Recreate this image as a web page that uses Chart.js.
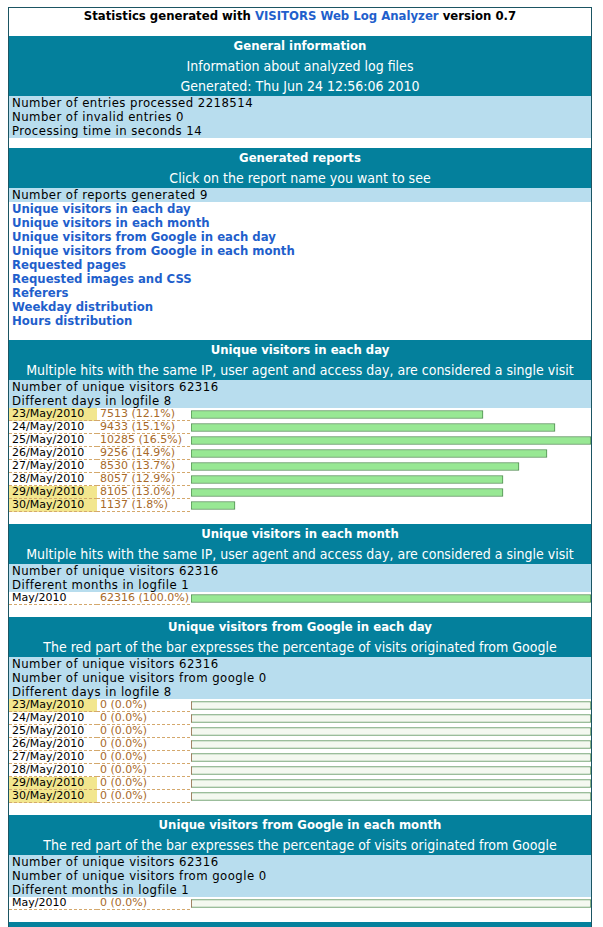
<!DOCTYPE html>
<html>
<head>
<meta charset="utf-8">
<script src="https://cdn.jsdelivr.net/npm/chart.js@4.4.0/dist/chart.umd.min.js"></script>
<style>
  body { margin: 0; background: #fff; font-family: "DejaVu Sans Condensed", "Liberation Sans", sans-serif; font-size: 14px; color: #000; }
  #page { position: absolute; left: 8px; top: 7px; width: 582px; border: 1px solid #1b5563; border-bottom: none; height: 930px; overflow: hidden; }
  #title { height: 28px; line-height: 16px; text-align: center; font-weight: bold; font-size: 13px; }
  a { color: #1f5fcc; text-decoration: none; }
  .hd { background: #04809c; color: #fff; text-align: center; }
  .hd div { height: 20px; line-height: 20px; white-space: nowrap; }
  .hd .t { font-weight: bold; font-size: 13px; }
  .info { background: #b8ddee; padding-left: 3px; font-size: 13px; letter-spacing: 0.45px; }
  .info div { height: 14px; line-height: 14px; white-space: nowrap; }
  .links { padding-left: 3px; font-weight: bold; font-size: 13px; }
  .links div { height: 14px; line-height: 14px; }
  .rows { position: relative; }
  .row { height: 13px; display: flex; font-family: "DejaVu Sans", sans-serif; font-size: 11px; }
  .d, .v { box-sizing: border-box; height: 13px; line-height: 12px; border-bottom: 1px dashed #d4a86c; white-space: nowrap; }
  .d { width: 88px; padding-left: 3px; }
  .d.we { background: #f2e68e; }
  .v { width: 93px; padding-left: 3px; color: #a86a2a; }
  .rows canvas { position: absolute; left: 182px; top: 0; }
  .gap { height: 12px; }
</style>
</head>
<body>
<div id="page">
  <div id="title">Statistics generated with <a href="#">VISITORS Web Log Analyzer</a> version 0.7</div>

  <div class="hd"><div class="t">General information</div><div>Information about analyzed log files</div><div>Generated: Thu Jun 24 12:56:06 2010</div></div>
  <div class="info"><div>Number of entries processed 2218514</div><div>Number of invalid entries 0</div><div>Processing time in seconds 14</div></div>
  <div class="gap" style="height:10px"></div>

  <div class="hd"><div class="t">Generated reports</div><div>Click on the report name you want to see</div></div>
  <div class="info"><div>Number of reports generated 9</div></div>
  <div class="links" id="links"></div>
  <div class="gap"></div>

  <div class="hd"><div class="t">Unique visitors in each day</div><div>Multiple hits with the same IP, user agent and access day, are considered a single visit</div></div>
  <div class="info"><div>Number of unique visitors 62316</div><div>Different days in logfile 8</div></div>
  <div class="rows" id="dayRows"></div>
  <div class="gap"></div>

  <div class="hd"><div class="t">Unique visitors in each month</div><div>Multiple hits with the same IP, user agent and access day, are considered a single visit</div></div>
  <div class="info"><div>Number of unique visitors 62316</div><div>Different months in logfile 1</div></div>
  <div class="rows" id="monthRows"></div>
  <div class="gap"></div>

  <div class="hd"><div class="t">Unique visitors from Google in each day</div><div>The red part of the bar expresses the percentage of visits originated from Google</div></div>
  <div class="info"><div>Number of unique visitors 62316</div><div>Number of unique visitors from google 0</div><div>Different days in logfile 8</div></div>
  <div class="rows" id="gDayRows"></div>
  <div class="gap"></div>

  <div class="hd"><div class="t">Unique visitors from Google in each month</div><div>The red part of the bar expresses the percentage of visits originated from Google</div></div>
  <div class="info"><div>Number of unique visitors 62316</div><div>Number of unique visitors from google 0</div><div>Different months in logfile 1</div></div>
  <div class="rows" id="gMonthRows"></div>
  <div class="gap" style="height:12px"></div>

  <div class="hd"><div></div><div></div></div>
</div>

<script>
var totalVisitors = 62316;
var reportNames = ['Unique visitors in each day', 'Unique visitors in each month', 'Unique visitors from Google in each day',
  'Unique visitors from Google in each month', 'Requested pages', 'Requested images and CSS', 'Referers',
  'Weekday distribution', 'Hours distribution'];
var dayLabels = ['23/May/2010', '24/May/2010', '25/May/2010', '26/May/2010', '27/May/2010', '28/May/2010', '29/May/2010', '30/May/2010'];
var dayVisitors = [7513, 9433, 10285, 9256, 8530, 8057, 8105, 1137];
var dayWeekend = [true, false, false, false, false, false, true, true];
var monthLabels = ['May/2010'];
var monthVisitors = [62316];
var googleDayVisitors = [0, 0, 0, 0, 0, 0, 0, 0];
var googleMonthVisitors = [0];

document.getElementById('links').innerHTML = reportNames.map(function (n) {
  return '<div><a href="#">' + n + '</a></div>';
}).join('');

function pct(v, tot) { return (tot ? (v / tot * 100) : 0).toFixed(1); }

// text cells + one canvas for the bars of a block
function buildRows(id, labels, texts, weekend) {
  var box = document.getElementById(id);
  var html = '';
  labels.forEach(function (l, i) {
    html += '<div class="row"><div class="d' + (weekend && weekend[i] ? ' we' : '') + '">' + l +
      '</div><div class="v">' + texts[i] + '</div></div>';
  });
  box.innerHTML = html;
  var cv = document.createElement('canvas');
  cv.width = 400; cv.height = labels.length * 13;
  cv.style.width = '400px'; cv.style.height = (labels.length * 13) + 'px';
  box.appendChild(cv);
  return cv.getContext('2d');
}

function barOptions() {
  return {
    indexAxis: 'y', responsive: false, animation: false, devicePixelRatio: 1,
    layout: { padding: 0 },
    plugins: { legend: { display: false }, tooltip: { enabled: false } },
    scales: {
      x: { display: false, min: 0, max: 100, stacked: true },
      y: { display: false, stacked: true }
    }
  };
}

function visitorsChart(id, labels, values, weekend) {
  var ctx = buildRows(id, labels, values.map(function (v) { return v + ' (' + pct(v, totalVisitors) + '%)'; }), weekend);
  var max = Math.max.apply(null, values);
  // the analyzer sizes each bar as a whole percentage of the largest one
  var widths = values.map(function (v) { return Math.floor(v * 100 / max); });
  new Chart(ctx, {
    type: 'bar',
    data: { labels: labels, datasets: [{ data: widths, backgroundColor: '#98e894', borderColor: '#4f8a4f', borderWidth: 1, borderSkipped: false, barThickness: 8 }] },
    options: barOptions()
  });
}

function googleChart(id, labels, gvalues, totals, weekend) {
  var ctx = buildRows(id, labels, gvalues.map(function (v, i) { return v + ' (' + pct(v, totals[i]) + '%)'; }), weekend);
  var red = gvalues.map(function (v, i) { return Math.floor(totals[i] ? v * 100 / totals[i] : 0); });
  new Chart(ctx, {
    type: 'bar',
    data: {
      labels: labels,
      datasets: [
        { data: red, backgroundColor: '#e03030', borderColor: '#4f8a4f', borderWidth: 0, barThickness: 8 },
        { data: red.map(function (r) { return 100 - r; }), backgroundColor: '#f4f8f0', borderColor: '#4f8a4f', borderWidth: 1, borderSkipped: false, barThickness: 8 }
      ]
    },
    options: barOptions()
  });
}

visitorsChart('dayRows', dayLabels, dayVisitors, dayWeekend);
visitorsChart('monthRows', monthLabels, monthVisitors, null);
googleChart('gDayRows', dayLabels, googleDayVisitors, dayVisitors, dayWeekend);
googleChart('gMonthRows', monthLabels, googleMonthVisitors, monthVisitors, null);
</script>
</body>
</html>
